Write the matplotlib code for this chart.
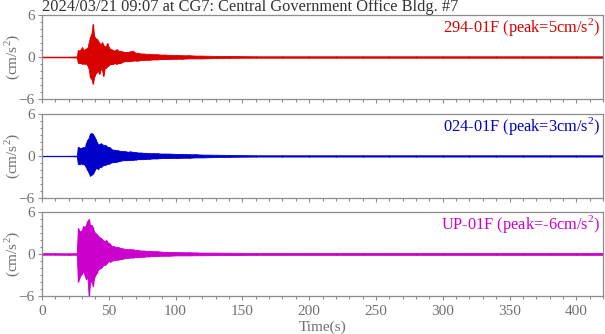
"""
Three-component acceleration record, CG7 2024/03/21 09:07.
"""

import matplotlib
matplotlib.use("Agg")
import matplotlib.pyplot as plt
from matplotlib.ticker import MultipleLocator

TITLE = "2024/03/21 09:07 at CG7: Central Government Office Bldg. #7"

# sample times (s) of the envelope
TIME = [0, 10, 20, 26,
        27, 28, 29, 30, 31, 32, 33, 34, 35, 36, 37, 38, 39, 40, 41, 42, 43, 44,
        45, 46, 47, 48, 49, 50, 51, 52, 53, 54, 55, 56, 57, 58, 59, 60,
        62, 64, 66, 68, 70, 72, 74, 76, 78, 80,
        83, 86, 89, 92, 95,
        100, 105, 110, 115, 120, 130,
        140, 160, 180, 200, 220, 240, 260, 280, 300, 320, 340, 360, 380, 400, 420]

# 294-01F (red)
RED_UP = [0.05, 0.05, 0.05, 0.08,
          1.0, 0.9, 1.1, 1.4, 1.0, 1.1, 1.2, 1.3, 2.1, 2.8, 3.3, 4.7, 3.0, 2.7, 2.6, 2.3, 2.0, 1.8,
          2.1, 1.7, 1.5, 1.6, 2.0, 1.4, 1.1, 1.1, 1.0, 0.9, 1.0, 1.1, 0.9, 0.9, 0.8, 0.8,
          0.7, 0.7, 0.8, 0.9, 0.6, 0.6, 0.5, 0.5, 0.45, 0.45,
          0.4, 0.4, 0.35, 0.35, 0.3,
          0.3, 0.25, 0.25, 0.2, 0.2, 0.15,
          0.15, 0.1, 0.1, 0.1, 0.1, 0.1, 0.1, 0.1, 0.1, 0.1, 0.1, 0.1, 0.1, 0.1, 0.1]
RED_LO = [-0.05, -0.05, -0.05, -0.08,
          -0.8, -0.9, -0.8, -1.0, -0.9, -1.0, -0.9, -1.2, -1.7, -2.9, -3.1, -3.8, -2.9, -2.4, -2.2, -2.0, -2.4, -1.7,
          -1.9, -2.7, -1.6, -1.5, -1.3, -1.2, -1.0, -1.0, -1.0, -0.9, -0.9, -1.0, -0.8, -0.9, -0.8, -0.7,
          -0.6, -0.6, -0.6, -0.5, -0.5, -0.5, -0.45, -0.4, -0.4, -0.4,
          -0.35, -0.35, -0.3, -0.3, -0.3,
          -0.25, -0.25, -0.2, -0.2, -0.2, -0.15,
          -0.12, -0.1, -0.1, -0.1, -0.1, -0.1, -0.1, -0.1, -0.1, -0.1, -0.1, -0.1, -0.1, -0.1, -0.1]

# 024-01F (blue)
BLUE_UP = [0.03, 0.03, 0.03, 0.05,
           1.3, 1.2, 1.1, 1.2, 1.3, 1.2, 1.8, 2.3, 2.6, 3.2, 3.25, 3.2, 2.8, 2.5, 2.0, 1.6, 1.7, 1.8,
           1.7, 1.5, 1.6, 1.5, 1.3, 1.3, 1.2, 1.0, 0.9, 0.9, 0.85, 0.8, 0.8, 0.75, 0.7, 0.7,
           0.7, 0.6, 0.65, 0.6, 0.55, 0.5, 0.5, 0.45, 0.45, 0.4,
           0.4, 0.4, 0.35, 0.35, 0.35,
           0.3, 0.3, 0.25, 0.25, 0.2, 0.18,
           0.15, 0.1, 0.1, 0.1, 0.1, 0.1, 0.1, 0.1, 0.1, 0.1, 0.1, 0.1, 0.1, 0.1, 0.1]
BLUE_LO = [-0.03, -0.03, -0.03, -0.05,
           -1.1, -1.2, -1.0, -1.2, -1.1, -1.3, -1.6, -2.0, -2.4, -2.8, -2.7, -2.5, -2.2, -1.8, -1.7, -1.9, -1.5, -1.6,
           -1.4, -1.3, -1.3, -1.2, -1.1, -1.1, -1.0, -0.9, -0.9, -0.85, -0.85, -0.8, -0.75, -0.7, -0.65, -0.6,
           -0.6, -0.6, -0.55, -0.55, -0.5, -0.45, -0.45, -0.45, -0.4, -0.4,
           -0.35, -0.35, -0.3, -0.3, -0.3,
           -0.3, -0.25, -0.25, -0.2, -0.2, -0.15,
           -0.12, -0.08, -0.08, -0.08, -0.08, -0.08, -0.08, -0.08, -0.08, -0.08, -0.08, -0.08, -0.08, -0.08, -0.08]

# UP-01F (magenta)
MAG_UP = [0.12, 0.12, 0.1, 0.12,
          3.7, 3.3, 3.2, 3.5, 4.0, 3.8, 4.2, 4.7, 5.0, 4.0, 4.2, 3.8, 3.2, 3.0, 2.8, 2.6, 2.4, 2.3,
          2.1, 1.9, 1.8, 2.0, 1.7, 1.6, 1.4, 1.2, 1.1, 1.1, 1.0, 1.0, 1.0, 0.9, 0.85, 0.8,
          0.75, 0.7, 0.7, 0.65, 0.6, 0.55, 0.5, 0.5, 0.45, 0.45,
          0.4, 0.4, 0.35, 0.3, 0.3,
          0.3, 0.25, 0.25, 0.22, 0.2, 0.2,
          0.18, 0.15, 0.15, 0.15, 0.15, 0.15, 0.15, 0.15, 0.15, 0.15, 0.15, 0.15, 0.15, 0.15, 0.15]
MAG_LO = [-0.1, -0.1, -0.12, -0.1,
          -3.95, -3.4, -3.0, -2.8, -2.4, -3.1, -3.6, -3.3, -6.0, -4.1, -3.8, -4.6, -3.4, -3.0, -2.7, -2.2, -2.1, -2.0,
          -1.8, -1.5, -1.6, -1.4, -1.2, -1.0, -1.1, -1.0, -0.9, -0.9, -0.85, -0.8, -0.8, -0.75, -0.7, -0.7,
          -0.6, -0.55, -0.5, -0.5, -0.45, -0.45, -0.4, -0.4, -0.35, -0.35,
          -0.3, -0.3, -0.25, -0.25, -0.25,
          -0.2, -0.2, -0.2, -0.18, -0.18, -0.15,
          -0.15, -0.12, -0.12, -0.12, -0.12, -0.12, -0.12, -0.12, -0.12, -0.12, -0.12, -0.12, -0.12, -0.12, -0.12]

CHANNELS = [
    ("294-01F", "5", RED_UP, RED_LO, "#d90000"),
    ("024-01F", "3", BLUE_UP, BLUE_LO, "#0000c8"),
    ("UP-01F", "-6", MAG_UP, MAG_LO, "#cc00cc"),
]

AX_LEFT = 42 / 605
AX_WIDTH = 561 / 605
PANEL_TOPS = [15, 114, 212]   # pixel rows of each panel's top edge
PANEL_H = 84

GRAY = "#707070"
SPINE = "#8c8c8c"
FS = 11

plt.rcParams["font.family"] = ["Liberation Serif", "DejaVu Serif"]
plt.rcParams["mathtext.fontset"] = "custom"
plt.rcParams["mathtext.rm"] = "Liberation Serif"


def main() -> None:
    fig = plt.figure(figsize=(6.05, 3.34), dpi=100)
    fig.text(AX_LEFT, 1 - 7 / 334, TITLE, ha="left", va="center",
             fontsize=11.8, color="#333333")

    for i, (name, peak, up, lo, color) in enumerate(CHANNELS):
        top = PANEL_TOPS[i]
        ax = fig.add_axes([AX_LEFT, 1 - (top + PANEL_H) / 334, AX_WIDTH, PANEL_H / 334])
        ax.fill_between(TIME, lo, up, color=color, linewidth=0.6)
        ax.vlines(TIME, lo, up, color=color, linewidth=1.0)

        ax.set_xlim(0, 420)
        ax.set_ylim(-6, 6)
        ax.yaxis.set_major_locator(MultipleLocator(6))
        ax.yaxis.set_minor_locator(MultipleLocator(1))
        ax.xaxis.set_major_locator(MultipleLocator(50))
        ax.xaxis.set_minor_locator(MultipleLocator(10))
        ax.tick_params(which="both", direction="out", color=SPINE, labelcolor=GRAY,
                       labelsize=FS, top=False, right=False, width=0.8)
        ax.tick_params(which="major", length=3.2, pad=2)
        ax.tick_params(which="minor", length=1.8)
        ax.tick_params(axis="x", which="major", pad=3)
        for sp in ax.spines.values():
            sp.set_color(SPINE)
            sp.set_linewidth(0.9)

        ax.set_ylabel("(cm/s$^2$)", color=GRAY, fontsize=FS)
        ax.yaxis.label.set_va("center")
        ax.yaxis.set_label_coords(-30 / 561, 0.5)
        ax.text(0.995, 0.86, f"{name} (peak={peak}cm/s$^2$)", transform=ax.transAxes,
                ha="right", va="center", fontsize=11.8, color=color)

        if i < 2:
            ax.tick_params(axis="x", labelbottom=False)
        else:
            ax.set_xlabel("Time(s)", color=GRAY, fontsize=FS, labelpad=2)

    fig.savefig("out.png", dpi=100)
    plt.close(fig)


if __name__ == "__main__":
    main()
